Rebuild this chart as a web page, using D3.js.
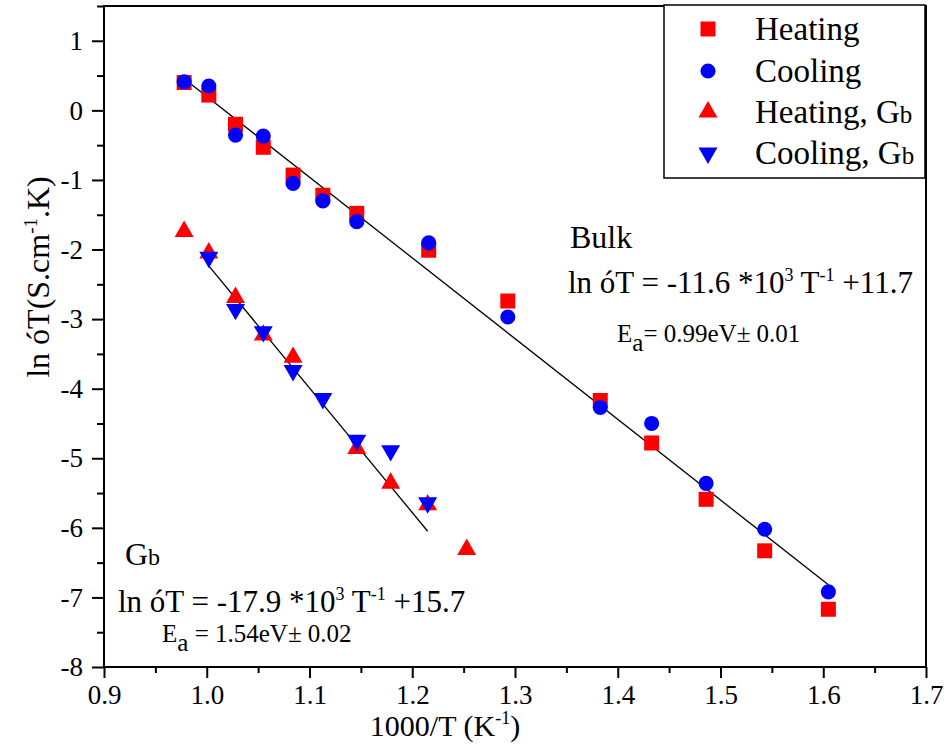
<!DOCTYPE html>
<html>
<head>
<meta charset="utf-8">
<script src="https://cdn.jsdelivr.net/npm/d3@7"></script>
<style>
  body { margin: 0; background: #fff; }
  svg { display: block; }
  svg text { font-family: "Liberation Serif", "Times New Roman", serif; }
</style>
</head>
<body>
<div id="chart"></div>
<script>
const WIDTH = 949
const HEIGHT = 751

// 1000/T values (K^-1)
const xBulk = [0.978, 1.002, 1.028, 1.055, 1.084, 1.113, 1.146, 1.216, 1.293, 1.383, 1.433, 1.486, 1.543, 1.605]
const heatingBulk = [0.40, 0.22, -0.20, -0.53, -0.93, -1.22, -1.48, -2.01, -2.74, -4.17, -4.78, -5.59, -6.33, -7.17]
const coolingBulk = [0.41, 0.35, -0.355, -0.37, -1.05, -1.30, -1.60, -1.905, -2.97, -4.27, -4.50, -5.36, -6.02, -6.92]

const xHeatGb = [0.978, 1.002, 1.028, 1.055, 1.084, 1.146, 1.179, 1.215, 1.253]
const heatingGb = [-1.74, -2.05, -2.69, -3.23, -3.55, -4.86, -5.36, -5.67, -6.31]
const xCoolGb = [1.002, 1.028, 1.055, 1.084, 1.113, 1.146, 1.179, 1.215]
const coolingGb = [-2.11, -2.86, -3.18, -3.74, -4.14, -4.74, -4.89, -5.64]

// linear fits: [slope, intercept], drawn over x range
const bulkFit = [-11.6, 11.8]
const bulkFitX = [0.978, 1.605]
const gbFit = [-17.9, 15.7]
const gbFitX = [1.002, 1.215]

const xTicks = [0.9, 1.0, 1.1, 1.2, 1.3, 1.4, 1.5, 1.6, 1.7]
const xMinor = [0.95, 1.05, 1.15, 1.25, 1.35, 1.45, 1.55, 1.65]
const yTicks = [-8, -7, -6, -5, -4, -3, -2, -1, 0, 1]
const yMinor = [-7.5, -6.5, -5.5, -4.5, -3.5, -2.5, -1.5, -0.5, 0.5, 1.5]

const legendLabels = ["Heating", "Cooling", "Heating, ", "Cooling, "]

const RED = "#ff0000"
const BLUE = "#0000ff"
const SERIF = "'Liberation Serif', 'Times New Roman', serif"

const x = d3.scaleLinear().domain([0.9, 1.7]).range([104, 926])
const y = d3.scaleLinear().domain([-8, 1.5]).range([667, 6])

const svg = d3.select("#chart")
  .append("svg")
  .attr("width", WIDTH)
  .attr("height", HEIGHT)

// axes
const styleAxis = g => {
  g.attr("font-family", SERIF).attr("font-size", 27)
  g.select(".domain").remove()
  g.selectAll(".tick line").attr("stroke", "#000").attr("stroke-width", 2)
  g.selectAll(".tick text").attr("fill", "#000")
}
const plainNum = fmt => d => fmt(d).replace("\u2212", "-")
const noLabel = () => ""

svg.append("g")
  .attr("transform", `translate(0,${y(-8)})`)
  .call(d3.axisBottom(x).tickValues(xMinor).tickSize(6).tickFormat(noLabel))
  .call(styleAxis)

svg.append("g")
  .attr("transform", `translate(0,${y(-8)})`)
  .call(d3.axisBottom(x).tickValues(xTicks).tickSize(11).tickPadding(7).tickFormat(plainNum(d3.format(".1f"))))
  .call(styleAxis)

svg.append("g")
  .attr("transform", `translate(${x(0.9)},0)`)
  .call(d3.axisLeft(y).tickValues(yMinor).tickSize(7).tickFormat(noLabel))
  .call(styleAxis)

svg.append("g")
  .attr("transform", `translate(${x(0.9)},0)`)
  .call(d3.axisLeft(y).tickValues(yTicks).tickSize(12).tickPadding(9).tickFormat(plainNum(d3.format("d"))))
  .call(styleAxis)

// frame
svg.append("rect")
  .attr("x", x(0.9))
  .attr("y", y(1.5))
  .attr("width", x(1.7) - x(0.9))
  .attr("height", y(-8) - y(1.5))
  .attr("fill", "none")
  .attr("stroke", "#000")
  .attr("stroke-width", 2)

// axis titles
const xTitle = svg.append("text")
  .attr("x", 445)
  .attr("y", 736)
  .attr("text-anchor", "middle")
  .attr("font-size", 30)
xTitle.append("tspan").text("1000/T (K")
xTitle.append("tspan").attr("font-size", 18).attr("dy", -12).text("-1")
xTitle.append("tspan").attr("dy", 12).text(")")

const yTitle = svg.append("text")
  .attr("transform", "translate(49,277) rotate(-90)")
  .attr("text-anchor", "middle")
  .attr("font-size", 32)
yTitle.append("tspan").text("ln óT(S.cm")
yTitle.append("tspan").attr("font-size", 19).attr("dy", -12).text("-1")
yTitle.append("tspan").attr("dy", 12).text(".K)")

// fit lines
const fitLine = (fit, xs) => xs.map(v => [x(v), y(fit[0] * v + fit[1])])
svg.append("path")
  .attr("d", d3.line()(fitLine(bulkFit, bulkFitX)))
  .attr("stroke", "#000").attr("stroke-width", 1.3).attr("fill", "none")
svg.append("path")
  .attr("d", d3.line()(fitLine(gbFit, gbFitX)))
  .attr("stroke", "#000").attr("stroke-width", 1.3).attr("fill", "none")

// markers
const symSquare = d3.symbol().type(d3.symbolSquare).size(225)
const symCircle = d3.symbol().type(d3.symbolCircle).size(180)
const symTri = d3.symbol().type(d3.symbolTriangle).size(156)

const series = [
  { xs: xBulk, ys: heatingBulk, sym: symSquare, color: RED, rot: 0 },
  { xs: xBulk, ys: coolingBulk, sym: symCircle, color: BLUE, rot: 0 },
  { xs: xHeatGb, ys: heatingGb, sym: symTri, color: RED, rot: 0 },
  { xs: xCoolGb, ys: coolingGb, sym: symTri, color: BLUE, rot: 180 }
]

series.forEach(s => {
  svg.append("g")
    .selectAll("path")
    .data(s.xs.map((v, i) => [v, s.ys[i]]))
    .join("path")
    .attr("d", s.sym())
    .attr("fill", s.color)
    .attr("transform", d => `translate(${x(d[0])},${y(d[1])}) rotate(${s.rot})`)
})

// legend
const legend = svg.append("g")
legend.append("rect")
  .attr("x", 664).attr("y", 5)
  .attr("width", 261).attr("height", 173)
  .attr("fill", "#fff").attr("stroke", "#000").attr("stroke-width", 1.5)

const legendRows = [29, 71, 112, 153]
series.forEach((s, i) => {
  legend.append("path")
    .attr("d", s.sym())
    .attr("fill", s.color)
    .attr("transform", `translate(708,${legendRows[i]}) rotate(${s.rot})`)
  const t = legend.append("text")
    .attr("x", 755)
    .attr("y", legendRows[i] + 11)
    .attr("font-size", 33)
  t.append("tspan").text(legendLabels[i])
  if (i >= 2) {
    t.append("tspan").text("G")
    t.append("tspan").attr("font-size", 25).text("b")
  }
})

// annotations
svg.append("text")
  .attr("x", 570).attr("y", 248)
  .attr("font-size", 32)
  .text("Bulk")

const eq = (gx, gy, slopeTxt, interTxt) => {
  const t = svg.append("text").attr("x", gx).attr("y", gy).attr("font-size", 31)
  t.append("tspan").text(`ln óT = ${slopeTxt} *10`)
  t.append("tspan").attr("font-size", 18).attr("dy", -12).text("3")
  t.append("tspan").attr("dy", 12).text(" T")
  t.append("tspan").attr("font-size", 18).attr("dy", -12).text("-1")
  t.append("tspan").attr("dy", 12).text(` ${interTxt}`)
}
eq(568, 293, "-11.6", "+11.7")
eq(118, 612, "-17.9", "+15.7")

const ea = (gx, gy, valTxt) => {
  const t = svg.append("text").attr("x", gx).attr("y", gy).attr("font-size", 25)
  t.append("tspan").text("E")
  t.append("tspan").attr("dy", 9).text("a")
  t.append("tspan").attr("dy", -9).text(valTxt)
}
ea(617, 342, "= 0.99eV± 0.01")
ea(162, 642, " = 1.54eV± 0.02")

const gbLabel = svg.append("text").attr("x", 125).attr("y", 565).attr("font-size", 32)
gbLabel.append("tspan").text("G")
gbLabel.append("tspan").attr("font-size", 24).text("b")
</script>
</body>
</html>
